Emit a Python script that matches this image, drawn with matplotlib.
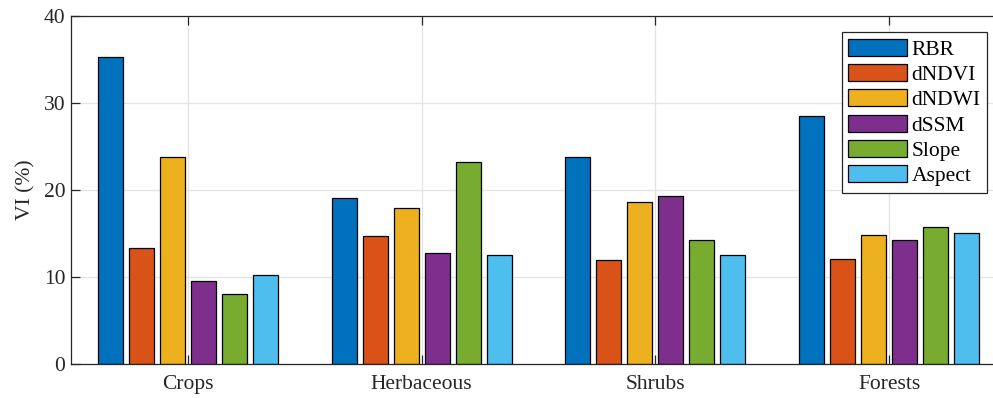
import matplotlib.pyplot as plt
import numpy as np

plt.rcParams['font.family'] = ['Liberation Serif', 'DejaVu Serif']
plt.rcParams['font.size'] = 15.5

# VI (%) per land cover class and variable
classes = ['Crops', 'Herbaceous', 'Shrubs', 'Forests']
variables = ['RBR', 'dNDVI', 'dNDWI', 'dSSM', 'Slope', 'Aspect']
rbr = [35.3, 19.1, 23.7, 28.45]
dndvi = [13.27, 14.73, 11.92, 12.0]
dndwi = [23.76, 17.88, 18.53, 14.84]
dssm = [9.54, 12.73, 19.23, 14.19]
slope = [8.0, 23.18, 14.27, 15.73]
aspect = [10.23, 12.5, 12.54, 15.0]
series = [rbr, dndvi, dndwi, dssm, slope, aspect]

colors = ['#0072BD', '#D95319', '#EDB120', '#7E2F8E', '#77AC30', '#4DBEEE']
axcol = '#262626'

fig = plt.figure(figsize=(9.93, 3.98), dpi=100)
# right edge runs past the figure so the right spine is cut off
ax = fig.add_axes((0.0715, 0.0862, 1.0131 - 0.0715, 0.8744))

x = np.arange(1, len(classes) + 1)
pitch = 0.1325
width = 0.107
for i, (vals, col, name) in enumerate(zip(series, colors, variables)):
    ax.bar(x + (i - 2.5) * pitch, vals, width, color=col, edgecolor='black',
           linewidth=0.9, label=name, zorder=3)

ax.set_xlim(0.5, 4.5)
ax.set_ylim(0, 40)
ax.set_xticks(x)
ax.set_xticklabels(classes)
ax.set_yticks([0, 10, 20, 30, 40])
ax.set_ylabel('VI (%)', color=axcol, labelpad=6)

ax.grid(True, color='#e3e3e3', linewidth=0.9, zorder=0)
ax.set_axisbelow(True)
for s in ax.spines.values():
    s.set_color(axcol)
    s.set_linewidth(0.9)
    s.set_zorder(4)
ax.tick_params(direction='in', length=6.5, width=0.9, color=axcol,
               labelcolor=axcol, top=True, right=True)
ax.tick_params(axis='x', pad=8)
ax.tick_params(axis='y', pad=4)

leg = ax.legend(loc='upper right', bbox_to_anchor=(987.3 / 993, 1 - 32.3 / 398),
                bbox_transform=fig.transFigure, borderaxespad=0,
                handlelength=2.75, handleheight=0.84, labelspacing=0.2,
                handletextpad=0.2, borderpad=0.3, fancybox=False,
                framealpha=1, edgecolor=axcol)
leg.get_frame().set_linewidth(0.9)
leg.set_zorder(5)

fig.savefig('out.png', dpi=100)
